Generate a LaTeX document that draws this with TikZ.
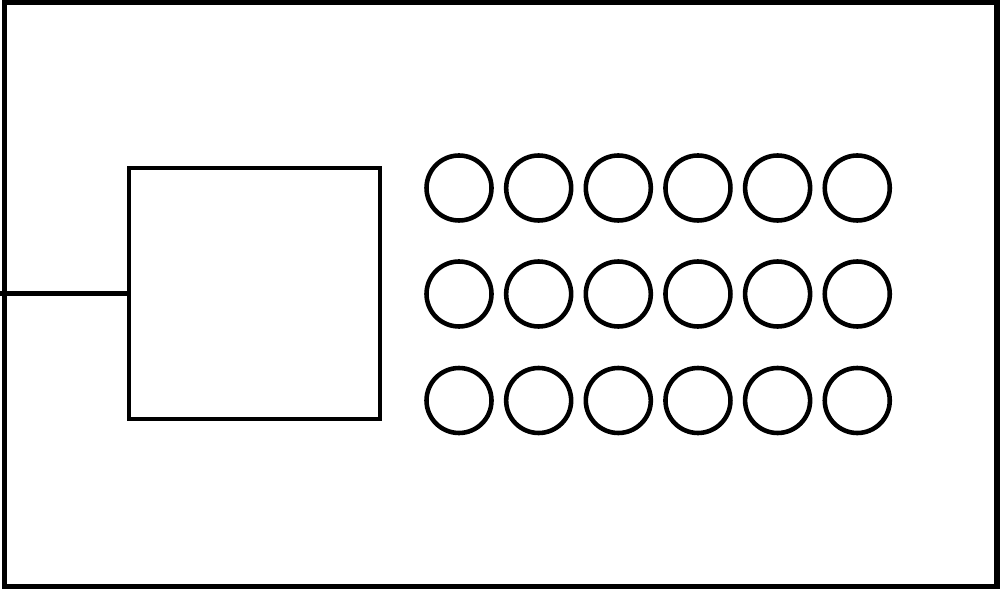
\documentclass[tikz,border=0pt]{standalone}
\begin{document}
\begin{tikzpicture}[
  line width=1.3pt,
  frame/.style={draw=black, line width=1.5pt},
  box/.style={draw=black, rectangle, minimum width=2.51cm, minimum height=2.51cm, inner sep=0pt, outer sep=0pt},
  hole/.style={draw=black, circle, minimum size=0.65cm, inner sep=0pt}
]
\useasboundingbox (0,0) rectangle (10,5.89);
\draw[frame] (0.045,0.025) rectangle (9.97,5.865);
\node[box] (sq) at (2.545,2.957) {};
\coordinate (lin) at (0,2.957);
\draw (lin) -- (sq.west);
\foreach \r/\y in {1/4.01,2/2.95,3/1.885}{
  \foreach \c in {0,...,5}{
    \node[hole] (c\r\c) at ({4.59+0.7965*\c},\y) {};
  }
}
\end{tikzpicture}
\end{document}
